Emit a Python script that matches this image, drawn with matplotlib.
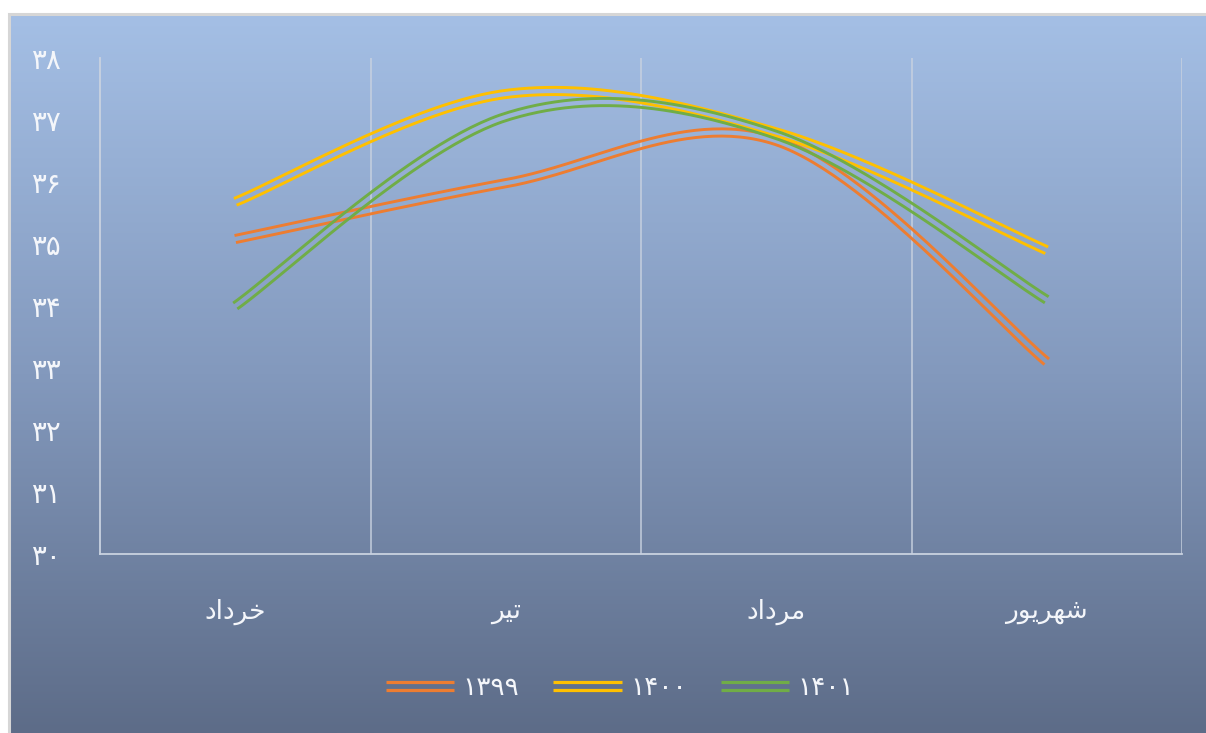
"""
plot.py
Monthly values for three years (1399-1401), smoothed double lines
on a blue gradient background, Persian labels.
"""

import numpy as np
import matplotlib
matplotlib.use("Agg")
import matplotlib.pyplot as plt
from matplotlib.lines import Line2D
from matplotlib.legend_handler import HandlerBase
from matplotlib.colors import LinearSegmentedColormap
from matplotlib.patches import Rectangle

plt.rcParams["font.family"] = ["DejaVu Sans"]

# months: خرداد, تیر, مرداد, شهریور (shaped into presentation forms, visual order)
months = [
    "\uFEA9\uFE8D\uFEA9\uFEAE\uFEA7",          # خرداد
    "\uFEAE\uFBFF\uFE97",                      # تیر
    "\uFEA9\uFE8D\uFEA9\uFEAE\uFEE3",          # مرداد
    "\uFEAD\uFEEE\uFBFE\uFEAE\uFEEC\uFEB7",    # شهریور
]
years = ["۱۳۹۹", "۱۴۰۰", "۱۴۰۱"]
y1399 = [35.08, 35.98, 36.66, 33.10]
y1400 = [35.68, 37.42, 36.80, 34.90]
y1401 = [34.00, 37.05, 36.76, 34.10]
yticks = [30, 31, 32, 33, 34, 35, 36, 37, 38]
ytick_labels = ["۳۰", "۳۱", "۳۲", "۳۳", "۳۴", "۳۵", "۳۶", "۳۷", "۳۸"]

colors = ["#ED7D31", "#FFC000", "#70AD47"]
text_color = "#F4F6FA"
grid_color = "#C9D2E0"


def smooth_curve(values, n=60):
    """Excel-like smoothed line: cubic Bezier with 1/6 neighbour tangents."""
    x = np.arange(len(values), dtype=float)
    y = np.asarray(values, dtype=float)
    px, py = [], []
    for i in range(len(y) - 1):
        i0 = max(i - 1, 0)
        i3 = min(i + 2, len(y) - 1)
        c1x = x[i] + (x[i + 1] - x[i0]) / 6
        c1y = y[i] + (y[i + 1] - y[i0]) / 6
        c2x = x[i + 1] - (x[i3] - x[i]) / 6
        c2y = y[i + 1] - (y[i3] - y[i]) / 6
        t = np.linspace(0, 1, n, endpoint=(i == len(y) - 2))
        a, b, c, d = (1 - t) ** 3, 3 * (1 - t) ** 2 * t, 3 * (1 - t) * t ** 2, t ** 3
        px.append(a * x[i] + b * c1x + c * c2x + d * x[i + 1])
        py.append(a * y[i] + b * c1y + c * c2y + d * y[i + 1])
    return np.concatenate(px), np.concatenate(py)


def draw_double(ax, xs, ys, color, gap_px=3.6, lw=2.1):
    """Draw a compound (double) line by offsetting along the normal in pixels."""
    pts = ax.transData.transform(np.column_stack([xs, ys]))
    dx = np.gradient(pts[:, 0])
    dy = np.gradient(pts[:, 1])
    norm = np.hypot(dx, dy)
    nx, ny = -dy / norm, dx / norm
    inv = ax.transData.inverted()
    for s in (-1, 1):
        off = pts + s * gap_px * np.column_stack([nx, ny])
        d = inv.transform(off)
        ax.plot(d[:, 0], d[:, 1], color=color, lw=lw, solid_capstyle="butt",
                zorder=3)


class DoubleLineHandler(HandlerBase):
    def create_artists(self, legend, orig_handle, xdescent, ydescent,
                       width, height, fontsize, trans):
        yc = height / 2 - ydescent
        arts = []
        for s in (-1, 1):
            ln = Line2D([-xdescent, width - xdescent], [yc + s * 2.7, yc + s * 2.7],
                        color=orig_handle.get_color(), lw=2.3,
                        solid_capstyle="butt", transform=trans)
            arts.append(ln)
        return arts


W, H = 1206, 733
fig = plt.figure(figsize=(W / 100, H / 100), dpi=100, facecolor="white")

# gradient background panel
bg = fig.add_axes([10 / W, 0, 1 - 10 / W, (H - 15) / H])
cmap = LinearSegmentedColormap.from_list(
    "bg", [(0.0, "#A4BFE5"), (0.5, "#8399BD"), (1.0, "#5D6C88")])
bg.imshow(np.linspace(0, 1, 256).reshape(-1, 1), aspect="auto", cmap=cmap,
          extent=[0, 1, 0, 1], origin="upper")
bg.set_axis_off()
fig.patches.append(Rectangle((8.5 / W, -0.01), 1.0, (H - 13.5) / H + 0.01,
                             transform=fig.transFigure, fill=False,
                             edgecolor="#D6D6D6", lw=2.2, zorder=0))

ax = fig.add_axes([100 / W, (H - 554) / H, (1182 - 100) / W, (554 - 58) / H])
ax.patch.set_alpha(0)
ax.set_xlim(-0.5, 3.5)
ax.set_ylim(30, 38)

for sp in ["top", "right"]:
    ax.spines[sp].set_visible(False)
for sp in ["left", "bottom"]:
    ax.spines[sp].set_color(grid_color)
    ax.spines[sp].set_linewidth(1.3)
for xv in [0.5, 1.5, 2.5, 3.5]:
    ax.axvline(xv, color=grid_color, lw=1.3, alpha=0.8, zorder=1)

ax.set_yticks(yticks)
ax.set_yticklabels(ytick_labels)
ax.set_xticks(range(len(months)))
ax.set_xticklabels(months)
ax.tick_params(axis="y", length=0, pad=28, labelsize=20, labelcolor=text_color)
ax.tick_params(axis="x", length=0, pad=32, labelsize=19, labelcolor=text_color)

handles = []
for vals, col, name in zip([y1399, y1400, y1401], colors, years):
    xs, ys = smooth_curve(vals)
    draw_double(ax, xs, ys, col)
    handles.append(Line2D([], [], color=col, label=name))

fig.legend(handles=handles, loc="center", bbox_to_anchor=(620 / W, 45 / H),
           ncol=3, frameon=False, fontsize=19, labelcolor=text_color,
           handlelength=2.6, handletextpad=0.3, columnspacing=1.3,
           handler_map={Line2D: DoubleLineHandler()})

fig.savefig("out.png", dpi=100, facecolor="white")
